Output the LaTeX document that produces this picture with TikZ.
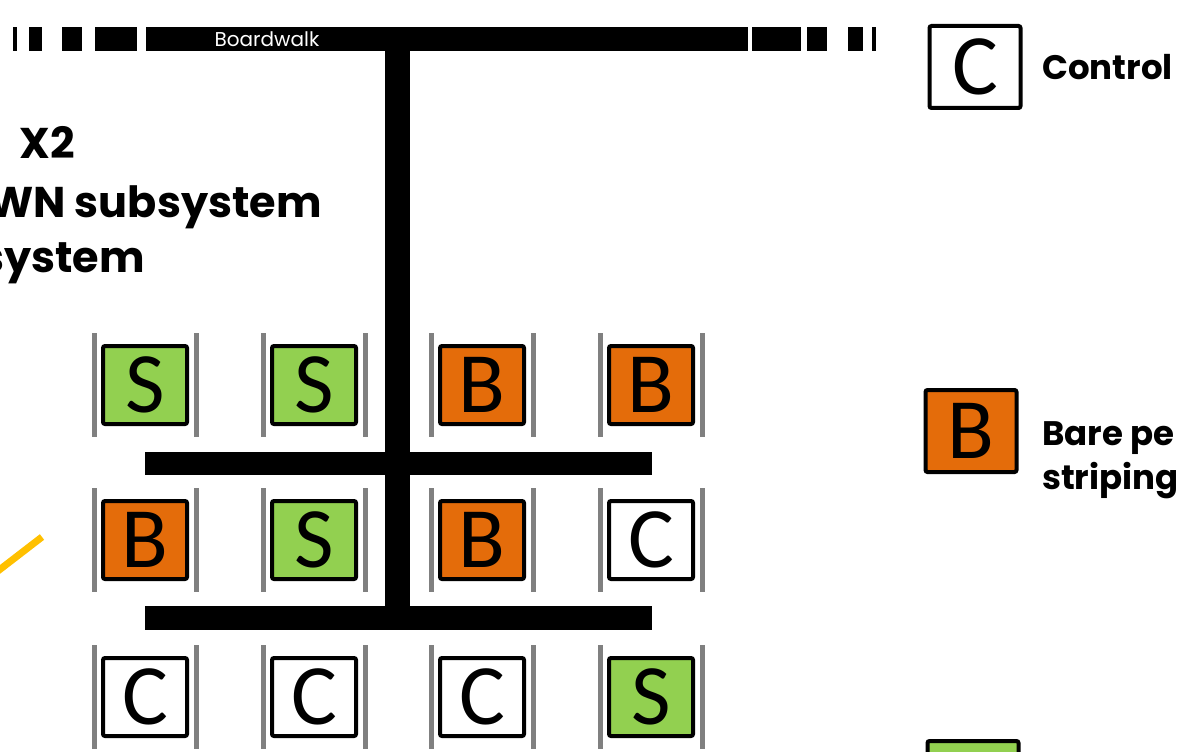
\documentclass[tikz,border=0pt]{standalone}
\usepackage{fontspec}
\setmainfont{Poppins}
\newfontfamily\plotfont{Carlito}
\usepackage{xcolor}
\definecolor{grass}{HTML}{92D050}
\definecolor{bare}{HTML}{E46C0A}
\definecolor{railgray}{HTML}{808080}
\definecolor{gold}{HTML}{FFC000}

\begin{document}
\begin{tikzpicture}[x=1pt,y=-1pt,
  plot/.style={draw,line width=4pt,rounded corners=2pt,minimum width=84pt,minimum height=78pt,inner sep=0pt,
    font=\plotfont\fontsize{86}{86}\selectfont},
  key/.style={plot,minimum width=91pt,minimum height=82pt},
  walk/.style={fill=black},
  rail/.style={draw=railgray,line width=5pt},
  title/.style={anchor=base east,inner sep=0pt,font=\bfseries\fontsize{43}{43}\selectfont},
  note/.style={anchor=base west,inner sep=0pt,font=\bfseries\fontsize{34}{34}\selectfont}]
\useasboundingbox (0,0) rectangle (1179,752);
\clip (0,0) rectangle (1179,752);

% boardwalk
\fill[walk] (146,27) rectangle (748,51);
\fill[walk] (13,27) rectangle (17,51);
\fill[walk] (29,27) rectangle (42,51);
\fill[walk] (62,27) rectangle (82,51);
\fill[walk] (95,27) rectangle (137,51);
\fill[walk] (752,27) rectangle (801,51);
\fill[walk] (807,27) rectangle (827,51);
\fill[walk] (848,27) rectangle (863,51);
\fill[walk] (872,27) rectangle (876,51);
\node (walk) at (267,39) [white,inner sep=0pt,font=\fontsize{20}{20}\selectfont] {Boardwalk};
\fill[walk] (385,51) rectangle (410,630);
\fill[walk] (145,452) rectangle (652,475);
\fill[walk] (145,606) rectangle (652,630);

% title
\node (t1) at (75,158) [title] {X2};
\node (t2) at (322,217) [title] {WN subsystem};
\node (t3) at (145,272) [title] {system};
\draw[gold,line width=7pt] (-6,574) -- (42,537);

% plots
\node (1) at (145,385) [plot,fill=grass] {S};
\node (2) at (314,385) [plot,fill=grass] {S};
\node (3) at (482,385) [plot,fill=bare] {B};
\node (4) at (651,385) [plot,fill=bare] {B};
\node (5) at (145,540) [plot,fill=bare] {B};
\node (6) at (314,540) [plot,fill=grass] {S};
\node (7) at (482,540) [plot,fill=bare] {B};
\node (8) at (651,540) [plot,fill=white] {C};
\node (9) at (145,697) [plot,fill=white] {C};
\node (10) at (314,697) [plot,fill=white] {C};
\node (11) at (482,697) [plot,fill=white] {C};
\node (12) at (651,697) [plot,fill=grass] {S};
\foreach \n in {1,...,12} {
  \draw[rail] ([shift={(-51,-52)}]\n.center) -- ([shift={(-51,52)}]\n.center);
  \draw[rail] ([shift={(51,-52)}]\n.center) -- ([shift={(51,52)}]\n.center);
}

% legend
\node (c) at (975,67) [key,fill=white] {C};
\node (b) at (971,431) [key,fill=bare] {B};
\node (g) at (973,782) [key,fill=grass] {};
\node (cl) at (1042,80) [note] {Control};
\node (bl) at (1042,445) [note] {Bare pe};
\node (bl2) at (1042,489) [note] {striping};
\end{tikzpicture}
\end{document}
